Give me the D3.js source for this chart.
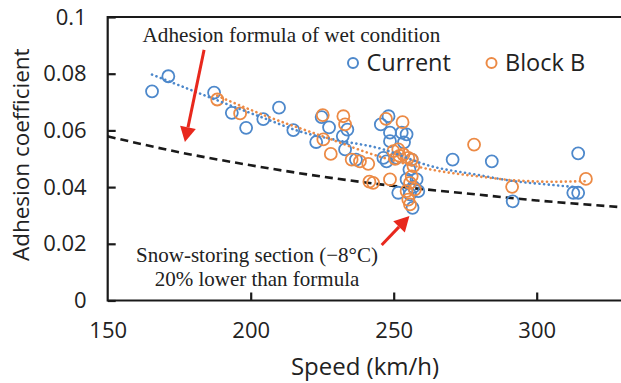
<!DOCTYPE html>
<html>
<head>
<meta charset="utf-8">
<script src="https://cdn.jsdelivr.net/npm/d3@7"></script>
<style>
  html, body { margin: 0; padding: 0; background: #fff; }
  svg { display: block; }
</style>
</head>
<body>
<svg id="chart" width="621" height="383"></svg>
<script>
// Measured adhesion coefficient vs. running speed
const currentSpeed = [165.5, 171.2, 187.2, 193.4, 198.4, 204.4, 209.9, 214.9, 222.9, 224.8,
  227.4, 232.2, 233.8, 233.0, 236.8, 245.5, 248.2, 248.7, 252.8, 254.5,
  248.7, 253.6, 246.4, 247.5, 251.0, 256.3, 255.5, 254.5, 258.0, 256.9,
  251.6, 255.7, 258.6, 256.6, 270.6, 284.3, 291.6, 312.8, 314.5, 314.5];
const currentValue = [0.0738, 0.0791, 0.0733, 0.0662, 0.0609, 0.0640, 0.0680, 0.0601, 0.0559, 0.0647,
  0.0611, 0.0580, 0.0603, 0.0533, 0.0497, 0.0621, 0.0650, 0.0592, 0.0592, 0.0586,
  0.0562, 0.0558, 0.0503, 0.0491, 0.0503, 0.0497, 0.0462, 0.0427, 0.0427, 0.0401,
  0.0380, 0.0374, 0.0386, 0.0327, 0.0497, 0.0491, 0.0350, 0.0380, 0.0380, 0.0519];

const blockBSpeed = [188.3, 196.3, 225.2, 225.4, 228.0, 232.4, 233.0, 235.3, 238.2, 241.1,
  241.5, 242.8, 247.3, 253.1, 248.7, 249.9, 251.6, 253.4, 255.1, 252.0,
  250.5, 256.3, 256.9, 256.3, 255.7, 254.5, 257.4, 255.1, 255.7, 278.1,
  291.4, 317.2];
const blockBValue = [0.0709, 0.0660, 0.0654, 0.0568, 0.0517, 0.0650, 0.0621, 0.0497, 0.0491, 0.0482,
  0.0419, 0.0415, 0.0641, 0.0629, 0.0427, 0.0527, 0.0533, 0.0515, 0.0503, 0.0510,
  0.0500, 0.0497, 0.0474, 0.0438, 0.0415, 0.0386, 0.0392, 0.0356, 0.0339, 0.0550,
  0.0401, 0.0429];

// Fitted trend lines (dotted)
const currentTrendSpeed = [165.5, 180, 195, 205, 217, 230, 245, 263, 280, 292, 305, 315.5];
const currentTrendValue = [0.0797, 0.0739, 0.0680, 0.0642, 0.0597, 0.0566, 0.0537, 0.0474, 0.0442, 0.0421, 0.0408, 0.0398];
const blockBTrendSpeed = [188.3, 205.6, 225, 245, 263, 280, 292, 305, 317.5];
const blockBTrendValue = [0.0722, 0.0650, 0.0580, 0.0508, 0.0462, 0.0437, 0.0424, 0.0419, 0.0421];

// Adhesion formula for wet rail condition (dashed)
const formulaSpeed = [150, 175, 200, 225, 250, 275, 300, 330];
const formulaValue = [0.0579, 0.0523, 0.0477, 0.0437, 0.0404, 0.0378, 0.0353, 0.0329];

const xTicks = [150, 200, 250, 300];
const yTicks = [0, 0.02, 0.04, 0.06, 0.08, 0.1];

const seriesNames = ["Current", "Block B"];
const seriesColors = ["#4d88cb", "#ec8a45"];

const sans = "'Open Sans', 'Liberation Sans', sans-serif";
const serif = "'Liberation Serif', 'Times New Roman', serif";

const svg = d3.select("#chart");

const x = d3.scaleLinear().domain([150, 330]).range([107.7, 622.5]);
const y = d3.scaleLinear().domain([0, 0.1]).range([300.5, 17]);

// frame (right side runs off the canvas)
svg.append("path")
  .attr("d", `M${x(340)},${y(0.1)} H${x(150)} V${y(0)} H${x(340)}`)
  .attr("fill", "none").attr("stroke", "#1a1a1a").attr("stroke-width", 2.2);

// axes with inward ticks
const yAxis = svg.append("g")
  .attr("transform", `translate(${x(150)},0)`)
  .call(d3.axisLeft(y).tickValues(yTicks).tickSize(-8).tickPadding(21)
    .tickFormat(d => d === 0 ? "0" : d3.format(".2~f")(d)));
const xAxis = svg.append("g")
  .attr("transform", `translate(0,${y(0)})`)
  .call(d3.axisBottom(x).tickValues(xTicks).tickSize(-8).tickPadding(22).tickFormat(d3.format("d")));
[yAxis, xAxis].forEach(g => {
  g.select(".domain").remove();
  g.selectAll(".tick line").attr("stroke", "#1a1a1a").attr("stroke-width", 2.2);
  g.selectAll(".tick text").attr("fill", "#222").style("font-family", sans).style("font-size", "22px");
});
xAxis.selectAll(".tick").filter(d => d === 150).select("line").remove();

// axis titles
svg.append("text")
  .attr("transform", `translate(21,${(y(0) + y(0.1)) / 2 - 4}) rotate(-90)`)
  .attr("text-anchor", "middle").attr("dy", "0.35em")
  .style("font-family", sans).style("font-size", "22.5px").attr("fill", "#222")
  .text("Adhesion coefficient");
svg.append("text")
  .attr("x", 365).attr("y", 375)
  .attr("text-anchor", "middle")
  .style("font-family", sans).style("font-size", "24px").attr("fill", "#222")
  .text("Speed (km/h)");

// formula curve
const formulaLine = d3.line().x(d => x(d[0])).y(d => y(d[1])).curve(d3.curveMonotoneX);
svg.append("path")
  .datum(d3.zip(formulaSpeed, formulaValue))
  .attr("d", formulaLine)
  .attr("fill", "none").attr("stroke", "#1a1a1a").attr("stroke-width", 2.6)
  .attr("stroke-dasharray", "8,5");

// scatter points
const plotSeries = [
  d3.zip(currentSpeed, currentValue),
  d3.zip(blockBSpeed, blockBValue)
];
plotSeries.forEach((pts, i) => {
  svg.append("g").selectAll("circle").data(pts).join("circle")
    .attr("cx", d => x(d[0])).attr("cy", d => y(d[1])).attr("r", 6)
    .attr("fill", "none").attr("stroke", seriesColors[i]).attr("stroke-width", 1.8);
});

// trend lines
const trendLine = d3.line().x(d => x(d[0])).y(d => y(d[1])).curve(d3.curveMonotoneX);
[d3.zip(currentTrendSpeed, currentTrendValue), d3.zip(blockBTrendSpeed, blockBTrendValue)]
  .forEach((pts, i) => {
    svg.append("path").datum(pts).attr("d", trendLine)
      .attr("fill", "none").attr("stroke", seriesColors[i]).attr("stroke-width", 2.6)
      .attr("stroke-dasharray", "0.1,4.6").attr("stroke-linecap", "round");
  });

// legend
const legend = svg.append("g");
[[353, 366.5], [491.5, 505]].forEach(([mx, tx], i) => {
  legend.append("circle").attr("cx", mx).attr("cy", 63).attr("r", 5)
    .attr("fill", "none").attr("stroke", seriesColors[i]).attr("stroke-width", 2);
  legend.append("text").attr("x", tx).attr("y", 71)
    .style("font-family", sans).style("font-size", "23.5px").attr("fill", "#222")
    .text(seriesNames[i]);
});

// annotations
function arrow(from, to) {
  const [x1, y1] = [x(from[0]), y(from[1])];
  const [x2, y2] = [x(to[0]), y(to[1])];
  const ang = Math.atan2(y2 - y1, x2 - x1);
  const len = 15, half = 8;
  const bx = x2 - len * Math.cos(ang), by = y2 - len * Math.sin(ang);
  svg.append("line").attr("x1", x1).attr("y1", y1).attr("x2", bx).attr("y2", by)
    .attr("stroke", "#e8281d").attr("stroke-width", 3);
  svg.append("path")
    .attr("d", `M${x2},${y2} L${bx + half * Math.sin(ang)},${by - half * Math.cos(ang)} L${bx - half * Math.sin(ang)},${by + half * Math.cos(ang)} Z`)
    .attr("fill", "#e8281d");
}
arrow([183.7, 0.0884], [177.0, 0.0559]);
arrow([245.8, 0.0196], [255.5, 0.0298]);

svg.append("text").attr("x", 142.5).attr("y", 42)
  .style("font-family", serif).style("font-size", "21.2px").attr("fill", "#222")
  .text("Adhesion formula of wet condition");
const note = svg.append("text").attr("text-anchor", "middle")
  .style("font-family", serif).style("font-size", "21px").attr("fill", "#222");
note.append("tspan").attr("x", 257).attr("y", 262).text("Snow-storing section (\u22128\u00B0C)");
note.append("tspan").attr("x", 257).attr("y", 286).text("20% lower than formula");
</script>
</body>
</html>
